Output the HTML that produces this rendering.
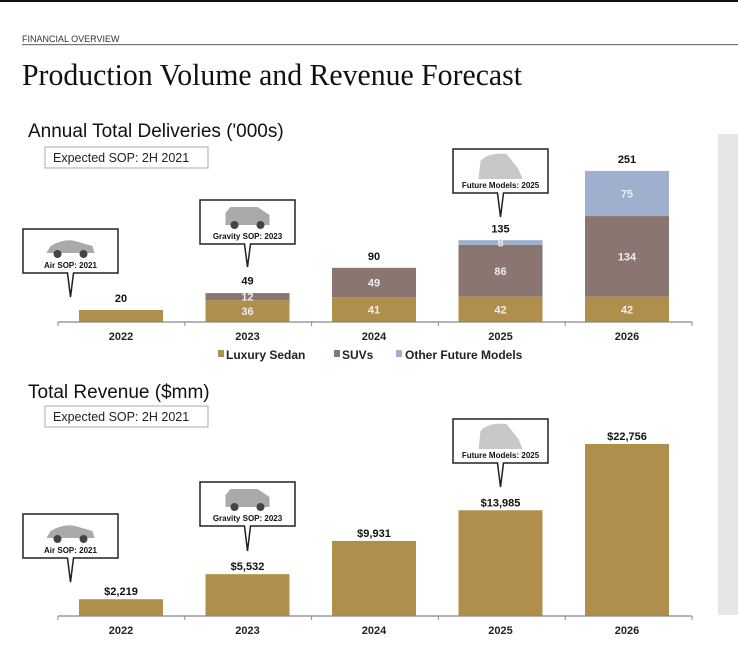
<!DOCTYPE html>
<html><head><meta charset="utf-8"><style>
body{margin:0;width:738px;height:654px;background:#fff;overflow:hidden;font-family:"Liberation Sans",sans-serif}
svg{position:absolute;left:0;top:0}
</style></head><body>
<svg id="c" width="738" height="654">
<rect x="0" y="0" width="738" height="2" fill="#111"/>
<text x="22" y="42" font-size="9" fill="#333">FINANCIAL OVERVIEW</text>
<rect x="22" y="44" width="716" height="1.2" fill="#777"/>
<text x="22" y="85" font-family="Liberation Serif,serif" font-size="31" fill="#111" textLength="500" lengthAdjust="spacingAndGlyphs">Production Volume and Revenue Forecast</text>
<rect x="718" y="134" width="20" height="481" fill="#e6e6e6"/>
<text x="28" y="137" font-size="19" fill="#111">Annual Total Deliveries ('000s)</text>
<rect x="45" y="147" width="163" height="21" fill="#fff" stroke="#aab"/>
<text x="53" y="162" font-size="12.5" fill="#222">Expected SOP:  2H 2021</text>
<text x="28" y="398" font-size="19" fill="#111">Total Revenue ($mm)</text>
<rect x="45" y="406" width="163" height="21" fill="#fff" stroke="#aab"/>
<text x="53" y="421" font-size="12.5" fill="#222">Expected SOP:  2H 2021</text>
<g id="gtop"></g><g id="gbot"></g><g id="calls"></g>
<g font-size="12" font-weight="bold" fill="#222">
<rect x="218" y="350" width="6" height="7" fill="#b08f4c"/><text x="226" y="359">Luxury Sedan</text>
<rect x="334" y="350" width="6" height="7" fill="#8a7570"/><text x="342" y="359">SUVs</text>
<rect x="396" y="350" width="6" height="7" fill="#9fb0cf"/><text x="405" y="359">Other Future Models</text>
</g>
</svg>
<script>
const years=["2022","2023","2024","2025","2026"];
const sedan=[20,36,41,42,42];
const suv=[0,12,49,86,134];
const other=[0,0,0,8,75];
const totals=[20,49,90,135,251];
const revenue=[2219,5532,9931,13985,22756];
const revLabels=["$2,219","$5,532","$9,931","$13,985","$22,756"];
const NS="http://www.w3.org/2000/svg";
function mk(t,a,p,txt){const e=document.createElementNS(NS,t);for(const k in a)e.setAttribute(k,a[k]);if(txt!=null)e.textContent=txt;p.appendChild(e);return e;}
const xp=i=>121+i*126.5, bw=84;
const gTop=document.getElementById('gtop'), gBot=document.getElementById('gbot');
const y1=v=>322-v*0.602, y2=v=>616-v*0.00756;
function axis(g,by,name){const a=mk('line',{x1:58,x2:692,y1:by,y2:by,stroke:'#888','stroke-width':1.2},g);


for(let i=0;i<=5;i++)mk('line',{x1:58+i*126.8,x2:58+i*126.8,y1:by,y2:by+4,stroke:'#888'},g);
years.forEach((yr,i)=>{const t=mk('text',{x:xp(i),y:by+18,'font-size':11,'font-weight':'bold','text-anchor':'middle',fill:'#222'},g,yr);

});}
years.forEach((yr,i)=>{
 let base=0;
 [[sedan,'#b08f4c','sedan'],[suv,'#8a7570','suv'],[other,'#9fb0cf','other']].forEach(([arr,col,nm])=>{
  const v=arr[i];if(!v)return;
  const r=mk('rect',{x:xp(i)-bw/2,y:y1(base+v),width:bw,height:y1(base)-y1(base+v),fill:col},gTop);
  
  
  if(i>0){const t=mk('text',{x:xp(i),y:(y1(base)+y1(base+v))/2+4,'font-size':11,'font-weight':'bold','text-anchor':'middle',fill:'#eee'},gTop,v);
  
  }
  base+=v;});
 const t=mk('text',{x:xp(i),y:y1(totals[i])-8,'font-size':11,'font-weight':'bold','text-anchor':'middle',fill:'#111'},gTop,totals[i]);
 
 
 const r=mk('rect',{x:xp(i)-bw/2,y:y2(revenue[i]),width:bw,height:616-y2(revenue[i]),fill:'#b08f4c'},gBot);
 
 
 const l=mk('text',{x:xp(i),y:y2(revenue[i])-4,'font-size':11,'font-weight':'bold','text-anchor':'middle',fill:'#111'},gBot,revLabels[i]);
 
 
});
axis(gTop,322,'x-axis-deliveries');axis(gBot,616,'x-axis-revenue');
const calls=document.getElementById('calls');
[[23,229,297,'Air SOP: 2021','sedan'],[200,200,267,'Gravity SOP: 2023','suv'],[453,149,217,'Future Models: 2025','cover'],
 [23,514,582,'Air SOP: 2021','sedan'],[200,482,551,'Gravity SOP: 2023','suv'],[453,419,487,'Future Models: 2025','cover']].forEach(([bx,by,py,lab,kind])=>{
 const g=mk('g',{},calls);
 
 
 const cx=bx+47.5;
 mk('path',{d:`M${bx} ${by}H${bx+95}V${by+44}H${cx+3}L${cx} ${py}L${cx-3} ${by+44}H${bx}Z`,fill:'#fff',stroke:'#222','stroke-width':1.5},g);
 if(kind==='cover')mk('path',{d:`M${cx-22} ${by+30}L${cx-20} ${by+12}Q${cx-12} ${by+3} ${cx+6} ${by+5}L${cx+18} ${by+20}L${cx+22} ${by+30}Z`,fill:'#c8c8c8'},g);
 else{mk('path',{d:kind==='suv'?`M${cx-22} ${by+25}V${by+13}L${cx-17} ${by+7}H${cx+10}L${cx+22} ${by+15}V${by+25}Z`:`M${cx-24} ${by+24}L${cx-20} ${by+17}Q${cx-5} ${by+8} ${cx+8} ${by+13}L${cx+22} ${by+17}L${cx+24} ${by+24}Z`,fill:'#aaa'},g);
 mk('circle',{cx:cx-13,cy:by+25,r:4,fill:'#444'},g);mk('circle',{cx:cx+13,cy:by+25,r:4,fill:'#444'},g);}
 mk('text',{x:cx,y:by+39,'font-size':8,'font-weight':'bold','text-anchor':'middle',fill:'#111'},g,lab);
});
</script>
</body></html>
